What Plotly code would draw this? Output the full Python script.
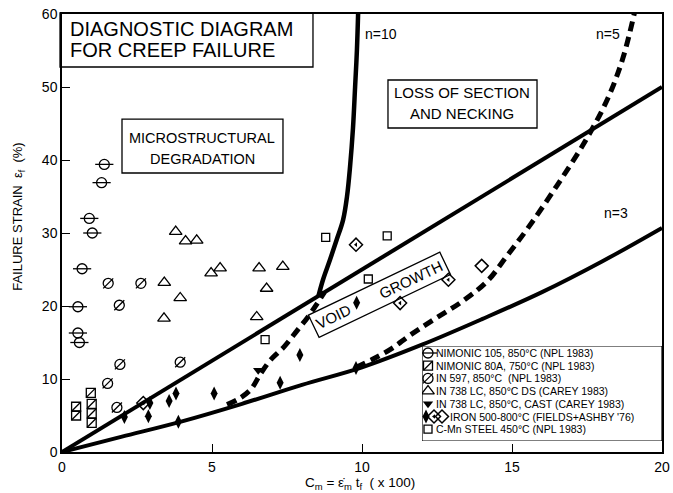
import plotly.graph_objects as go

# ---------------- data ----------------
x_ticks = [0, 5, 10, 15, 20]
y_ticks = [0, 10, 20, 30, 40, 50, 60]

nim105_x = [1.41, 1.32, 0.91, 1.01, 0.67, 0.53, 0.53, 0.58]
nim105_y = [39.4, 36.9, 32.0, 30.0, 25.1, 19.9, 16.3, 15.0]

nim80_x = [0.47, 0.47, 0.96, 0.99, 0.99, 0.99]
nim80_y = [6.2, 5.0, 8.1, 6.6, 5.3, 4.0]

in597_x = [1.54, 2.63, 1.91, 1.93, 1.52, 1.83, 3.94]
in597_y = [23.1, 23.1, 20.1, 12.0, 9.4, 6.1, 12.3]

in738ds_x = [3.79, 4.12, 4.49, 3.41, 3.94, 3.40, 4.97, 5.27, 6.57, 7.36, 6.82, 6.49]
in738ds_y = [30.2, 28.9, 29.0, 23.2, 21.1, 18.3, 24.5, 25.2, 25.2, 25.4, 22.4, 18.5]

in738cast_x = [6.54]
in738cast_y = [11.2]

iron_f_x = [2.08, 2.93, 2.88, 3.57, 3.80, 3.88, 5.07, 7.27, 7.93, 9.80, 9.82]
iron_f_y = [4.8, 6.7, 4.9, 7.0, 8.0, 4.15, 8.0, 9.5, 13.3, 11.5, 20.45]

iron_h_x = [2.71, 9.80, 11.27, 12.88]
iron_h_y = [6.7, 28.4, 20.4, 23.6]

iron_o_x = [13.99]
iron_o_y = [25.5]

cmn_x = [8.79, 6.77, 10.84, 10.21]
cmn_y = [29.4, 15.4, 29.6, 23.7]

# boundary curves
upper_x = [0, 20]
upper_y = [0, 50]
n3_x = [0, 2, 4, 6, 8, 10, 12, 14, 16, 18, 20]
n3_y = [0, 2.1, 4.2, 6.6, 9.2, 11.6, 14.7, 18.2, 21.9, 26.1, 30.7]
n10_x = [8.55, 8.7, 8.93, 9.15, 9.37, 9.5, 9.6, 9.7, 9.77, 9.83, 9.87]
n10_y = [21.4, 23.6, 26.3, 29.0, 31.8, 35.0, 39.0, 44.4, 50.0, 55.0, 60.0]
n5a_x = [5.5, 5.9, 6.3, 6.6, 6.95, 7.4, 7.85, 8.2, 8.5, 8.75]
n5a_y = [6.5, 7.3, 8.6, 10.6, 12.6, 14.4, 16.7, 18.5, 20.3, 21.9]
n5b_x = [9.8, 10.4, 11.0, 11.6, 12.3, 13.4, 14.2, 14.8, 15.5, 16.5, 17.5, 18.2, 18.7, 19.1]
n5b_y = [11.6, 12.8, 14.2, 16.0, 17.9, 20.8, 23.5, 26.7, 30.5, 36.5, 43.0, 48.5, 54.0, 60.5]

legend_labels = [
    "NIMONIC 105, 850°C (NPL 1983)",
    "NIMONIC 80A, 750°C (NPL 1983)",
    "IN 597, 850°C  (NPL 1983)",
    "IN 738 LC, 850°C DS (CAREY 1983)",
    "IN 738 LC, 850°C, CAST (CAREY 1983)",
    "IRON 500-800°C (FIELDS+ASHBY '76)",
    "C-Mn STEEL 450°C (NPL 1983)",
]

# ---------------- styles ----------------
FONT = "Liberation Sans, Arial, sans-serif"
BLACK = "black"
ST_NIM105 = [("circle-open", 10, 1.3), ("line-ew-open", 13, 1.3)]
ST_NIM80 = [("square-open", 9, 1.3), ("line-ne-open", 9, 1.3)]
ST_IN597 = [("circle-open", 10, 1.3), ("line-ne-open", 10, 1.3)]
ST_DS = [("triangle-up-open", 11, 1.3)]
ST_CAST = [("triangle-down", 9, 0)]
ST_IRON_F = [("diamond-tall", 10, 0)]
ST_IRON_H = [("diamond-open", 10, 1.5), ("triangle-left", 4, 0)]
ST_IRON_O = [("diamond-open", 10, 1.5)]
ST_CMN = [("square-open", 8, 1.3)]

fig = go.Figure()


def add_points(x, y, style, xa="x", ya="y"):
    for sym, size, lw in style:
        fig.add_trace(go.Scatter(
            x=x, y=y, mode="markers", xaxis=xa, yaxis=ya, hoverinfo="skip",
            marker=dict(symbol=sym, size=size, color=BLACK,
                        line=dict(color=BLACK, width=lw)),
        ))


def add_curve(x, y, dash=None, width=4):
    fig.add_trace(go.Scatter(
        x=x, y=y, mode="lines", hoverinfo="skip",
        line=dict(color=BLACK, width=width, shape="spline", dash=dash),
    ))


# curves
add_curve(upper_x, upper_y)
add_curve(n3_x, n3_y)
add_curve(n10_x, n10_y, width=4.5)
add_curve(n5a_x, n5a_y, dash="10px,6px", width=5)
add_curve(n5b_x, n5b_y, dash="10px,6px", width=5)

# points
add_points(nim105_x, nim105_y, ST_NIM105)
add_points(nim80_x, nim80_y, ST_NIM80)
add_points(in597_x, in597_y, ST_IN597)
add_points(in738ds_x, in738ds_y, ST_DS)
add_points(in738cast_x, in738cast_y, ST_CAST)
add_points(iron_f_x, iron_f_y, ST_IRON_F)
add_points(iron_h_x, iron_h_y, ST_IRON_H)
add_points(iron_o_x, iron_o_y, ST_IRON_O)
add_points(cmn_x, cmn_y, ST_CMN)

# ---------------- custom legend (own small axes) ----------------
LEG_W, LEG_H = 240, 95
row_y = [7 + 12.7 * i for i in range(len(legend_labels))]
leg_styles = [ST_NIM105, ST_NIM80, ST_IN597, ST_DS, ST_CAST, None, ST_CMN]
for i, st in enumerate(leg_styles):
    if st is not None:
        add_points([6], [row_y[i]], st, "x2", "y2")
        tx = 12
    else:
        add_points([4], [row_y[i]], ST_IRON_F, "x2", "y2")
        add_points([12], [row_y[i]], ST_IRON_H, "x2", "y2")
        add_points([20], [row_y[i]], ST_IRON_O, "x2", "y2")
        tx = 26
    fig.add_annotation(x=tx, y=row_y[i], xref="x2", yref="y2", text=legend_labels[i],
                       showarrow=False, xanchor="left", yanchor="middle",
                       font=dict(family=FONT, size=10.5, color=BLACK))

fig.add_shape(type="rect", xref="x2", yref="y2", x0=0, x1=LEG_W, y0=0, y1=LEG_H,
              line=dict(color=BLACK, width=1.2), fillcolor="white", layer="below")

# ---------------- text boxes ----------------
boxes = [(-0.0033, 0.4183, 0.879, 1.0023), (0.1, 0.3683, 0.637, 0.760), (0.5433, 0.7917, 0.7397, 0.8493)]
for x0, x1, y0, y1 in boxes:
    fig.add_shape(type="rect", xref="paper", yref="paper", x0=x0, x1=x1, y0=y0, y1=y1,
                  line=dict(color=BLACK, width=1.3), fillcolor="white", layer="below")

texts = [
    ("DIAGNOSTIC DIAGRAM", 0.01, 0.9658, "left", 20),
    ("FOR CREEP FAILURE", 0.01, 0.9178, "left", 20),
    ("MICROSTRUCTURAL", 0.234, 0.717, "center", 14.5),
    ("DEGRADATION", 0.234, 0.669, "center", 14.5),
    ("LOSS OF SECTION", 0.6667, 0.8208, "center", 15),
    ("AND NECKING", 0.6667, 0.7717, "center", 15),
    ("n=10", 0.5317, 0.9543, "center", 14),
    ("n=5", 0.91, 0.9543, "center", 14),
    ("n=3", 0.9233, 0.5457, "center", 14),
]
for t, x, y, xa, s in texts:
    fig.add_annotation(x=x, y=y, xref="paper", yref="paper", text=t, showarrow=False,
                       xanchor=xa, yanchor="middle", font=dict(family=FONT, size=s, color=BLACK))

fig.add_annotation(x=10.57, y=21.5, xref="x", yref="y",
                   text="VOID" + "\u00a0" * 8 + "GROWTH", showarrow=False, textangle=-25.6,
                   font=dict(family=FONT, size=15, color=BLACK),
                   bordercolor=BLACK, borderwidth=1.3, borderpad=3, bgcolor="rgba(0,0,0,0)")

# axis titles
fig.add_annotation(x=-0.0717, y=0.537, xref="paper", yref="paper",
                   xanchor="center", yanchor="middle",
                   text="FAILURE STRAIN  ε<sub>f</sub>  (%)", showarrow=False, textangle=-90,
                   font=dict(family=FONT, size=13, color=BLACK))
fig.add_annotation(x=0.497, y=-0.072, xref="paper", yref="paper",
                   xanchor="center", yanchor="middle",
                   text="C<sub>m</sub> = ε\u0307<sub>m</sub> t<sub>f</sub>  ( x 100)", showarrow=False,
                   font=dict(family=FONT, size=13.5, color=BLACK))

axis_common = dict(showgrid=False, zeroline=False, showline=True, linecolor=BLACK, linewidth=1.5,
                   mirror=True, ticks="inside", ticklen=8, tickwidth=1.2, tickcolor=BLACK,
                   automargin=False,
                   tickfont=dict(family=FONT, size=14, color=BLACK))

fig.update_layout(
    width=673, height=493,
    margin=dict(l=62, r=11, t=14, b=41),
    paper_bgcolor="white", plot_bgcolor="white",
    showlegend=False,
    font=dict(family=FONT, color=BLACK),
    xaxis=dict(range=[0, 20], tickvals=x_ticks, ticklabelstandoff=1, **axis_common),
    yaxis=dict(range=[0, 60], tickvals=y_ticks, **axis_common),
    xaxis2=dict(domain=[0.6, 1.0], range=[0, LEG_W], visible=False, anchor="y2", automargin=False),
    yaxis2=dict(domain=[0.0251, 0.242], range=[LEG_H, 0], visible=False, anchor="x2", automargin=False),
)

fig.write_html("out.html", post_script="document.body.style.margin='0px';",
               config={"displayModeBar": False})
